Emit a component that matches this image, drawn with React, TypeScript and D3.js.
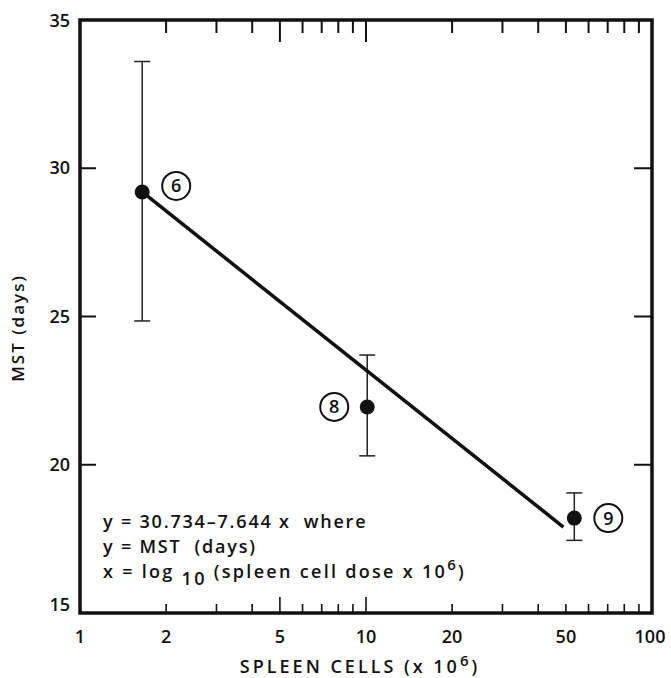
import React from "react";
import * as d3 from "d3";

const doses = [1.65, 10.1, 53.5];
const mst = [29.2, 21.95, 18.2];
const errHigh = [33.6, 23.7, 19.05];
const errLow = [24.85, 20.3, 17.45];
const groupLabels = ["6", "8", "9"];
const fitX = [1.65, 49];
const fitY = [29.2, 17.9];
const yTicks = [15, 20, 25, 30, 35];
const xLabelTicks = [1, 2, 5, 10, 20, 50, 100];
const xMinorTicks = [2, 3, 4, 5, 6, 7, 8, 9, 10, 20, 30, 40, 50, 60, 70, 80, 90];
const equationLines = ["y = 30.734\u20137.644 x  where", "y = MST  (days)"];

const W = 671;
const H = 678;
const L = 80, R = 652, T = 20, B = 613;
const FONT = "'Open Sans', 'DejaVu Sans', sans-serif";

export default function App() {
  const x = d3.scaleLog().domain([1, 100]).range([L, R]);
  const y = d3.scaleLinear().domain([15, 35]).range([B, T]);
  const line = d3.line<number>().x((_, i) => x(fitX[i])).y((d) => y(d));
  const longTick = (v: number) => v === 5 || v === 10;

  return (
    <svg width={W} height={H} style={{ position: "absolute", left: 0, top: 0, background: "#fff" }}>
      <rect x={0} y={0} width={W} height={H} fill="#fff" />
      {/* top ticks */}
      {xMinorTicks.map((v) => (
        <line key={"tt" + v} x1={x(v)} x2={x(v)} y1={T} y2={T + (longTick(v) ? 22 : 13)} stroke="#111" strokeWidth={2} />
      ))}
      {/* bottom ticks */}
      {xMinorTicks.map((v) => (
        <line key={"bt" + v} x1={x(v)} x2={x(v)} y1={B} y2={B - (longTick(v) ? 16 : 9)} stroke="#111" strokeWidth={1.6} />
      ))}
      {/* y ticks */}
      {yTicks.slice(1, 4).map((v) => (
        <g key={"yt" + v}>
          <line x1={L} x2={L + 16} y1={y(v)} y2={y(v)} stroke="#111" strokeWidth={2} />
          <line x1={R} x2={R - 18} y1={y(v)} y2={y(v)} stroke="#111" strokeWidth={2} />
        </g>
      ))}
      {/* frame */}
      <rect x={L} y={T} width={R - L} height={B - T} fill="none" stroke="#111" strokeWidth={3.5} />

      {/* y tick labels */}
      {yTicks.map((v) => (
        <text key={"yl" + v} x={L - 10} y={y(v) + (v === 15 ? -2 : v === 35 ? 7 : 6)} textAnchor="end" fontFamily={FONT} fontSize={18} fontWeight={600} fill="#111">
          {v}
        </text>
      ))}
      {/* x tick labels */}
      {xLabelTicks.map((v) => (
        <text key={"xl" + v} x={x(v) - (v === 100 ? 2 : 0)} y={643} textAnchor="middle" fontFamily={FONT} fontSize={18} fontWeight={600} fill="#111">
          {v}
        </text>
      ))}

      {/* axis titles */}
      <text x={360} y={673} textAnchor="middle" fontFamily={FONT} fontSize={18} fontWeight={600} letterSpacing={3} fill="#111">
        SPLEEN CELLS (x 10
        <tspan dy={-7} fontSize={15}>6</tspan>
        <tspan dy={7}>)</tspan>
      </text>
      <text transform="translate(24,328) rotate(-90)" textAnchor="middle" fontFamily={FONT} fontSize={17} fontWeight={600} letterSpacing={2} fill="#111">
        MST (days)
      </text>

      {/* error bars */}
      {doses.map((d, i) => (
        <g key={"eb" + i} stroke="#222" strokeWidth={1.5}>
          <line x1={x(d)} x2={x(d)} y1={y(errHigh[i])} y2={y(errLow[i])} />
          <line x1={x(d) - 8} x2={x(d) + 8} y1={y(errHigh[i])} y2={y(errHigh[i])} />
          <line x1={x(d) - 8} x2={x(d) + 8} y1={y(errLow[i])} y2={y(errLow[i])} />
        </g>
      ))}

      {/* fit line */}
      <path d={line(fitY) || ""} fill="none" stroke="#111" strokeWidth={3.5} />

      {/* points */}
      {doses.map((d, i) => (
        <circle key={"pt" + i} cx={x(d)} cy={y(mst[i])} r={7.5} fill="#111" />
      ))}

      {/* circled group labels */}
      {doses.map((d, i) => {
        const dx = i === 1 ? -33 : 34;
        const cx = x(d) + dx;
        const cy = y(mst[i]) - (i === 0 ? 6 : 0);
        return (
          <g key={"gl" + i}>
            <circle cx={cx} cy={cy} r={14} fill="none" stroke="#111" strokeWidth={2} />
            <text x={cx} y={cy + 6.5} textAnchor="middle" fontFamily={FONT} fontSize={18} fontWeight={600} fill="#111">
              {groupLabels[i]}
            </text>
          </g>
        );
      })}

      {/* equation */}
      <g fontFamily={FONT} fontSize={18} fontWeight={600} fill="#111" letterSpacing={1.8}>
        <text x={103} y={528} xmlSpace="preserve">{equationLines[0]}</text>
        <text x={103} y={553} xmlSpace="preserve">{equationLines[1]}</text>
        <text x={103} y={578} xmlSpace="preserve" letterSpacing={2.3}>
          x = log
          <tspan dy={7}> 10</tspan>
          <tspan dy={-7}> (spleen cell dose x 10</tspan>
          <tspan dy={-8} fontSize={15}>6</tspan>
          <tspan dy={8}>)</tspan>
        </text>
      </g>
    </svg>
  );
}
